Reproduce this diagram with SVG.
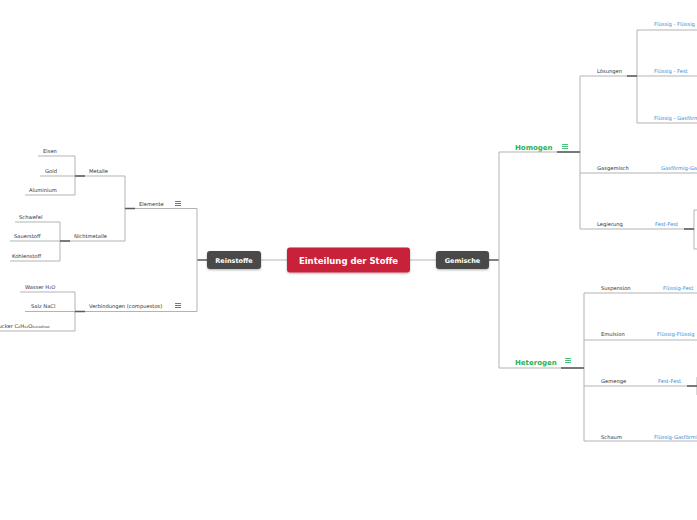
<svg xmlns="http://www.w3.org/2000/svg" width="697" height="520" viewBox="0 0 697 520">
<style>
.ln{fill:none;stroke:#b3b3b3;stroke-width:1}
.dk{fill:none;stroke:#5a5a5a;stroke-width:1.3}
.t{font-family:"DejaVu Sans",Verdana,sans-serif;font-size:5.2px;fill:#333}
.b{font-family:"DejaVu Sans",Verdana,sans-serif;font-size:5.2px;fill:#3b8ed6}
.g{font-family:"DejaVu Sans",Verdana,sans-serif;font-size:7px;font-weight:bold;fill:#1db35c}
.n{font-family:"DejaVu Sans",Verdana,sans-serif;font-size:6.5px;font-weight:bold;fill:#fff;text-anchor:middle}
.ic{stroke:#555;stroke-width:0.8}
.icg{stroke:#1db35c;stroke-width:0.8}
</style>
<defs>
<filter id="sh" x="-20%" y="-30%" width="140%" height="160%"><feDropShadow dx="0" dy="1" stdDeviation="1" flood-color="#000" flood-opacity="0.3"/></filter>
</defs>
<rect width="697" height="520" fill="#fff"/>
<g id="connectors">
<path class="ln" d="M261,260H287M410,260H436"/>
<path class="dk" d="M197,260H207M489,260H499"/>
<path class="ln" d="M197,208.5V311.5M125,208.5H197M125,176V241M75,176H125M60,241H125M75,156V195M38,156H75M40,176H75M25,195H75M60,222V261M15,222H60M10,241H60M10,261H60M75,311.5H197M75,292V331M20,292H75M25,311.5H75M0,331H75"/>
<path class="dk" d="M125,208.5H135M75,176H85M60,241H70M75,311.5H85"/>
<path class="ln" d="M499,152V368M499,152H580M580,76V229M580,76H637M637,30V123M637,30H697M637,76H697M637,123H697M580,173H697M580,229H694M694,210V249M694,210H697M694,249H697M499,368H584M584,293V441M584,293H697M584,340H697M584,386H697M584,441H697M697,377V395"/>
<path class="dk" d="M557,152H580M627,76H637M684,229H694M561,368H584M687,386H697"/>
</g>
<g id="center"><rect x="287" y="247.5" width="123" height="25" rx="3" fill="#c8203a" filter="url(#sh)"/><text class="n" x="348.5" y="263.5" style="font-size:8.5px">Einteilung der Stoffe</text></g>
<g id="reinstoffe"><rect x="207" y="251" width="54" height="18" rx="3" fill="#4a4a4a" filter="url(#sh)"/><text class="n" x="234" y="262.5">Reinstoffe</text></g>
<g id="gemische"><rect x="436" y="251" width="53" height="18" rx="3" fill="#4a4a4a" filter="url(#sh)"/><text class="n" x="462.5" y="262.5">Gemische</text></g>
<g id="elemente"><text class="t" x="139" y="205.5">Elemente</text><path class="ic" d="M175,201.5H181M175,203.5H181M175,205.5H181"/></g>
<g id="metalle"><text class="t" x="89" y="172.5">Metalle</text></g>
<g id="eisen"><text class="t" x="43" y="152.5">Eisen</text></g>
<g id="gold"><text class="t" x="45" y="172.5">Gold</text></g>
<g id="aluminium"><text class="t" x="29" y="191.5">Aluminium</text></g>
<g id="nichtmetalle"><text class="t" x="74" y="237.5">Nichtmetalle</text></g>
<g id="schwefel"><text class="t" x="19" y="218.5">Schwefel</text></g>
<g id="sauerstoff"><text class="t" x="14" y="237.5">Sauerstoff</text></g>
<g id="kohlenstoff"><text class="t" x="12" y="257.5">Kohlenstoff</text></g>
<g id="verbindungen"><text class="t" x="89" y="308">Verbindungen (compuestos)</text><path class="ic" d="M175,303.5H181M175,305.5H181M175,307.5H181"/></g>
<g id="wasser"><text class="t" x="25" y="288.5">Wasser H₂O</text></g>
<g id="salz"><text class="t" x="31" y="308">Salz NaCl</text></g>
<g id="zucker"><text class="t" x="-5" y="327.5">Zucker C₆H₁₂O₆<tspan style="font-size:3px">undefined</tspan></text></g>
<g id="homogen"><text class="g" x="515" y="149.5">Homogen</text><path class="icg" d="M562,144.5H568M562,146.5H568M562,148.5H568"/></g>
<g id="loesungen"><text class="t" x="597" y="72.5">Lösungen</text></g>
<g id="ff1"><text class="b" x="654" y="26">Flüssig - Flüssig</text></g>
<g id="ff2"><text class="b" x="654" y="72.5">Flüssig - Fest</text></g>
<g id="ff3"><text class="b" x="654" y="119.5">Flüssig - Gasförmig</text></g>
<g id="gasgemisch"><text class="t" x="597" y="169.5">Gasgemisch</text></g>
<g id="gg"><text class="b" x="661" y="169.5">Gasförmig-Gasförmig</text></g>
<g id="legierung"><text class="t" x="597" y="225.5">Legierung</text></g>
<g id="festfest1"><text class="b" x="655" y="225.5">Fest-Fest</text></g>
<g id="heterogen"><text class="g" x="515" y="364.5">Heterogen</text><path class="icg" d="M565,358.5H571M565,360.5H571M565,362.5H571"/></g>
<g id="suspension"><text class="t" x="601" y="289.5">Suspension</text></g>
<g id="sf"><text class="b" x="663" y="289.5">Flüssig-Fest</text></g>
<g id="emulsion"><text class="t" x="601" y="336">Emulsion</text></g>
<g id="sff"><text class="b" x="657" y="336">Flüssig-Flüssig</text></g>
<g id="gemenge"><text class="t" x="601" y="382.5">Gemenge</text></g>
<g id="festfest2"><text class="b" x="658" y="382.5">Fest-Fest</text></g>
<g id="schaum"><text class="t" x="601" y="438.5">Schaum</text></g>
<g id="sfg"><text class="b" x="654" y="438.5">Flüssig-Gasförmig</text></g>
</svg>
